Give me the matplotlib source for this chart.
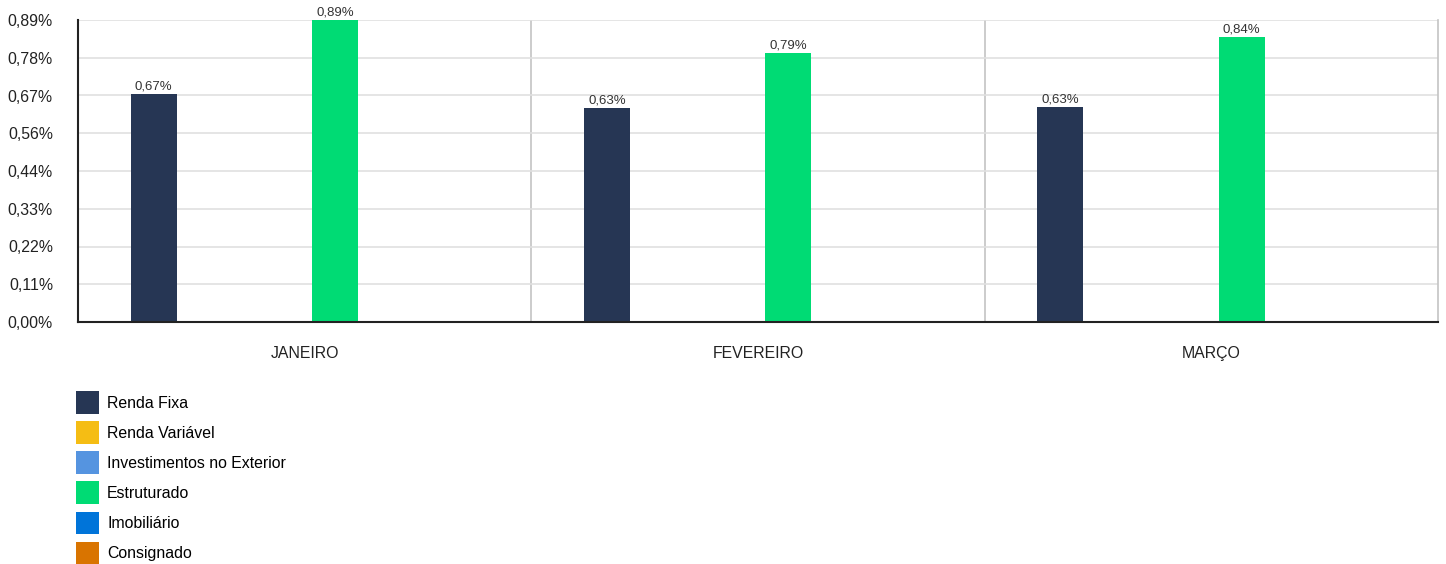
import matplotlib
matplotlib.use("Agg")
import matplotlib.pyplot as plt
from matplotlib.patches import Patch
import numpy as np

plt.rcParams['font.family'] = ['Liberation Sans', 'DejaVu Sans']

months = ["JANEIRO", "FEVEREIRO", "MARÇO"]
series_names = ["Renda Fixa", "Renda Variável", "Investimentos no Exterior",
                "Estruturado", "Imobiliário", "Consignado"]
series_colors = ["#263654", "#f5bd14", "#5594e0", "#00db74", "#0074d9", "#d97400"]
renda_fixa = [0.672, 0.631, 0.634]
renda_variavel = [None, None, None]
investimentos_exterior = [None, None, None]
estruturado = [0.890, 0.793, 0.840]
imobiliario = [None, None, None]
consignado = [None, None, None]
y_max = 0.89
tick_labels = ["0,00%", "0,11%", "0,22%", "0,33%", "0,44%", "0,56%", "0,67%", "0,78%", "0,89%"]

all_series = [renda_fixa, renda_variavel, investimentos_exterior,
              estruturado, imobiliario, consignado]

fig = plt.figure(figsize=(14.46, 5.64), dpi=100)
ax = fig.add_axes([78/1446, 242/564, 1360/1446, 302/564])

n_series = len(all_series)
group_pad = 0.1
slot = (1 - 2*group_pad) / n_series
bar_w = slot * 0.76

for j, (vals, col) in enumerate(zip(all_series, series_colors)):
    for i, v in enumerate(vals):
        if v is None:
            continue
        xc = i + group_pad + slot*(j + 0.5)
        ax.bar(xc, v, width=bar_w, color=col, zorder=3)
        ax.text(xc, v + 0.003, f"{v:.2f}%".replace(".", ","), ha="center", va="bottom",
                fontsize=9.5, color="#333333", zorder=4)

ax.set_xlim(0, len(months))
ax.set_ylim(0, y_max)
ticks = np.linspace(0, y_max, len(tick_labels))
ax.set_yticks(ticks)
ax.set_yticklabels(tick_labels, fontsize=11.4, color="#222222")
ax.tick_params(axis='y', length=0, pad=18)
ax.set_xticks([i + 0.5 for i in range(len(months))])
ax.set_xticklabels(months, fontsize=11.4, color="#222222")
ax.tick_params(axis='x', length=0, pad=17)

ax.yaxis.grid(True, color="#e0e0e0", linewidth=1.2, zorder=0)
for b in range(1, len(months)):
    ax.axvline(b, color="#c4c4c4", linewidth=1.2, zorder=1)

ax.spines['top'].set_visible(False)
ax.spines['right'].set_color("#c4c4c4")
ax.spines['right'].set_linewidth(1.2)
ax.spines['left'].set_color("#222222")
ax.spines['left'].set_linewidth(1.5)
ax.spines['bottom'].set_color("#222222")
ax.spines['bottom'].set_linewidth(1.5)
ax.spines['bottom'].set_zorder(5)

handles = [Patch(facecolor=c, edgecolor='none', label=n) for n, c in zip(series_names, series_colors)]
fig.legend(handles=handles, loc='upper left', bbox_to_anchor=(70/1446, 1 - 385/564),
           frameon=False, fontsize=11.4, handlelength=1.45, handleheight=1.85,
           labelspacing=0.45, handletextpad=0.5, borderaxespad=0, borderpad=0.4)

fig.savefig("out.png", dpi=100, facecolor="white")
